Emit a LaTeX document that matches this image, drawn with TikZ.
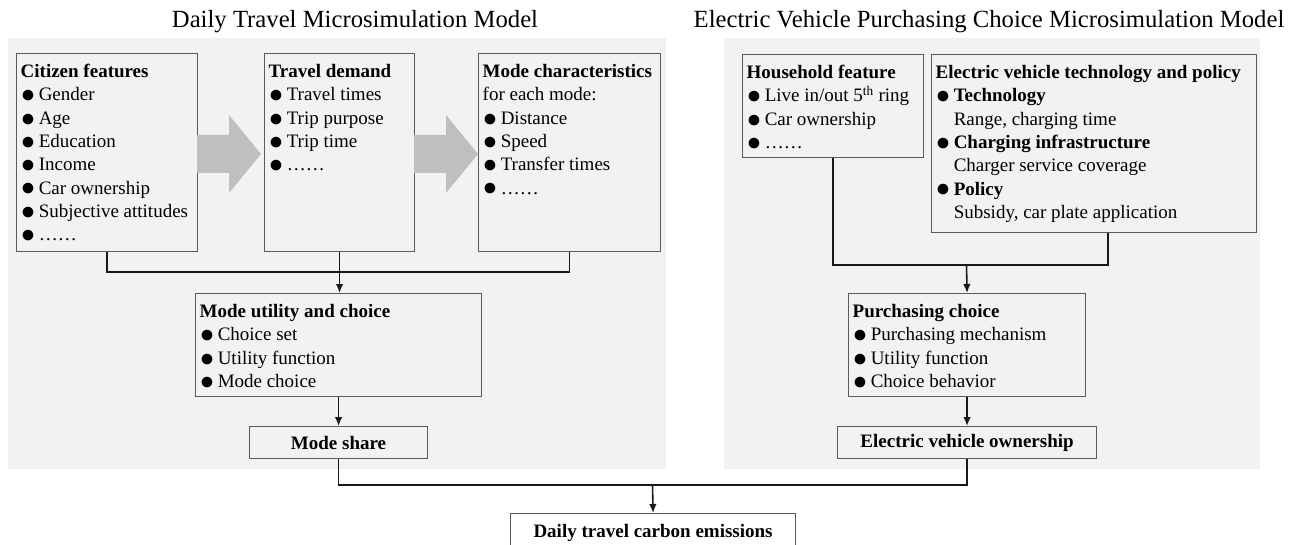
\documentclass[tikz,border=0pt]{standalone}
\usepackage{fontspec}
\setmainfont{Liberation Serif}
\usetikzlibrary{positioning}
\usetikzlibrary{arrows.meta}
\usetikzlibrary{calc}

\definecolor{panelgray}{RGB}{242,242,242}
\definecolor{arrowgray}{RGB}{191,191,191}
\definecolor{framegray}{RGB}{90,90,90}

\newcommand{\bodyfont}{\fontsize{19}{23.3}\selectfont}
\newcommand{\titlefont}{\fontsize{24.7}{28}\selectfont}
\newcommand{\itm}{\makebox[0.95em][l]{\raisebox{-0.1em}{\scalebox{1.3}{●}}}}
\newcommand{\indnt}{\hspace*{0.95em}}

\begin{document}
\begin{tikzpicture}[x=1pt,y=-1pt,
		panel/.style={fill=panelgray},
		mbox/.style={draw=framegray, line width=1.1pt, fill=panelgray, anchor=north west, inner sep=0},
		mtext/.style={anchor=north west, inner sep=0, align=left, font=\bodyfont},
		title/.style={font=\titlefont, inner sep=0},
		link/.style={line width=1.6pt, black!90},
		>={Latex[length=9pt,width=7.5pt]}]
	
	\fill[white] (0,0) rectangle (1297,545);
	\useasboundingbox (0,0) rectangle (1297,545);
	
	% the two model panels
	\fill[panel] (8,38) rectangle (666,469);
	\fill[panel] (724,38) rectangle (1260,469);
	
	\node[title] (titleL) at (355,22) {Daily Travel Microsimulation Model};
	\node[title] (titleR) at (989,22) {Electric Vehicle Purchasing Choice Microsimulation Model};
	
	% daily travel model
	\node[mbox, minimum width=181pt, minimum height=198pt] (citizen) at (16,53) {};
	\node[mtext] (citizenT) at ([shift={(4.5,8)}]citizen.north west)
	{\strut\textbf{Citizen features}\\ \itm Gender\\ \itm Age\\ \itm Education\\ \itm Income\\ \itm Car ownership\\ \itm Subjective attitudes\\ \itm ……};
	
	\node[mbox, minimum width=150pt, minimum height=198pt] (travel) at (264,53) {};
	\node[mtext] (travelT) at ([shift={(4.5,8)}]travel.north west)
	{\strut\textbf{Travel demand}\\ \itm Travel times\\ \itm Trip purpose\\ \itm Trip time\\ \itm ……};
	
	\node[mbox, minimum width=182pt, minimum height=198pt] (modechar) at (478,53) {};
	\node[mtext] (modecharT) at ([shift={(4.5,8)}]modechar.north west)
	{\strut\textbf{Mode characteristics}\\ for each mode:\\ \itm Distance\\ \itm Speed\\ \itm Transfer times\\ \itm ……};
	
	% big gray arrows between the feature boxes
	\foreach \xa/\xb in {197/229, 414/446}
	\fill[arrowgray] (\xa,135) -- (\xb,135) -- (\xb,115) -- (\xb+32,154) -- (\xb,193) -- (\xb,173) -- (\xa,173) -- cycle;
	
	\node[mbox, minimum width=286pt, minimum height=103pt] (utility) at (195,293) {};
	\node[mtext] (utilityT) at ([shift={(4.5,8)}]utility.north west)
	{\strut\textbf{Mode utility and choice}\\ \itm Choice set\\ \itm Utility function\\ \itm Mode choice};
	
	\node[mbox, minimum width=178pt, minimum height=32pt, font=\bodyfont\bfseries] (share) at (249,426) {Mode share};
	
	% purchasing choice model
	\node[mbox, minimum width=181pt, minimum height=103pt] (household) at (742,54) {};
	\node[mtext] (householdT) at ([shift={(4.5,8)}]household.north west)
	{\strut\textbf{Household feature}\\ \itm Live in/out 5\textsuperscript{th} ring\\ \itm Car ownership\\ \itm ……};
	
	\node[mbox, minimum width=325pt, minimum height=178pt] (evtech) at (931,54) {};
	\node[mtext] (evtechT) at ([shift={(4.5,8)}]evtech.north west)
	{\strut\textbf{Electric vehicle technology and policy}\\ \itm\textbf{Technology}\\ \indnt Range, charging time\\
		\itm\textbf{Charging infrastructure}\\ \indnt Charger service coverage\\ \itm\textbf{Policy}\\ \indnt Subsidy, car plate application};
	
	\node[mbox, minimum width=237pt, minimum height=103pt] (purchase) at (848,293) {};
	\node[mtext] (purchaseT) at ([shift={(4.5,8)}]purchase.north west)
	{\strut\textbf{Purchasing choice}\\ \itm Purchasing mechanism\\ \itm Utility function\\ \itm Choice behavior};
	
	\node[mbox, minimum width=259pt, minimum height=32pt, font=\bodyfont\bfseries] (ownership) at (837,426) {Electric vehicle ownership};
	
	% result
	\node[mbox, fill=white, minimum width=285pt, minimum height=38pt, font=\bodyfont\bfseries] (final) at (510,513) {Daily travel carbon emissions};
	
	% connectors
	\coordinate (joinL) at (338.5,272);
	\draw[link] (citizen.south) |- (joinL) -| (modechar.south);
	\draw[link,->] (travel.south) -- (travel.south |- utility.north);
	\draw[link,->] (utility.south) -- (utility.south |- share.north);
	
	\coordinate (joinR) at (966.5,265);
	\draw[link] (household.south) |- (joinR) -| ([xshift=14pt]evtech.south);
	\draw[link,->] (joinR) -- (purchase.north);
	\draw[link,->] (purchase.south) -- (ownership.north);
	
	\coordinate (joinB) at (652.5,485);
	\draw[link] (share.south) |- (joinB) -| (ownership.south);
	\draw[link,->] (joinB) -- (final.north);
	
\end{tikzpicture}
\end{document}
